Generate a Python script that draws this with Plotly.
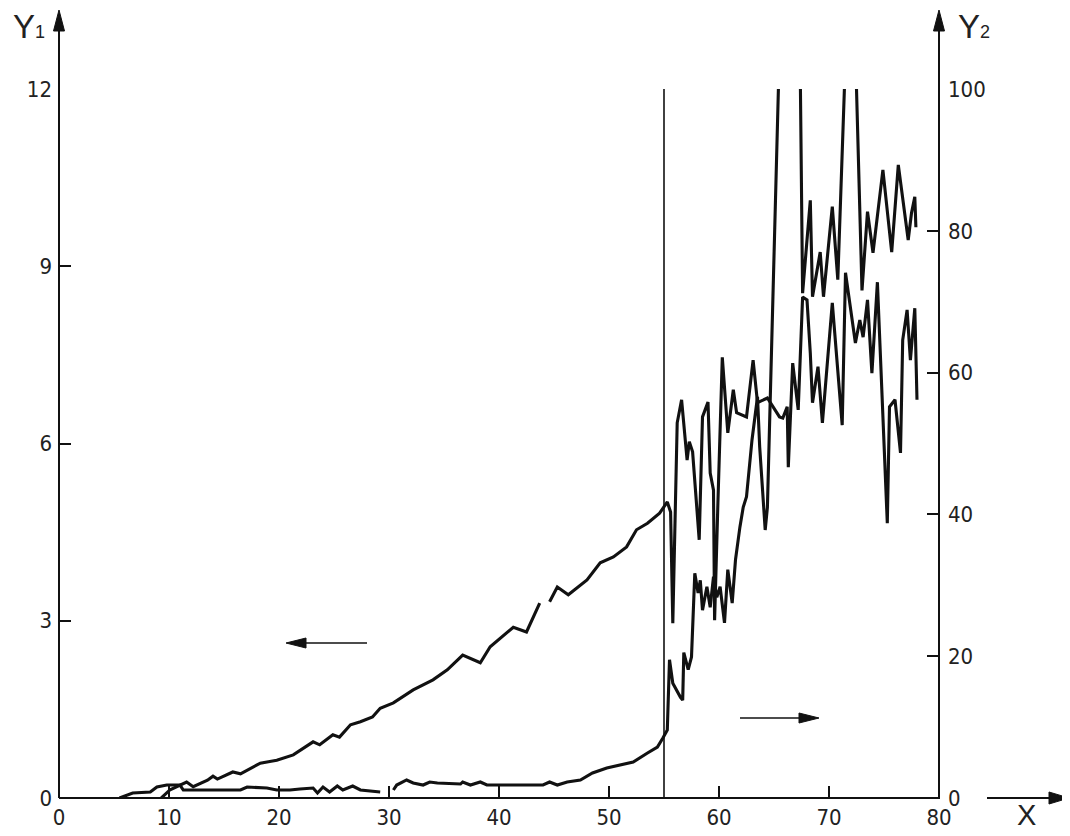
import plotly.graph_objects as go

# ---------------- data ----------------
# Y1 (left axis) curve
y1_x = [9.3, 10.1, 11.6, 12.2, 13.5, 14.0, 14.4, 15.8, 16.5, 18.3, 19.8, 21.3, 23.1, 23.7, 24.9,
        25.5, 26.5, 27.4, 28.5, 29.2, 30.4, 32.2, 34.0, 35.3, 36.7, 38.3, 39.2, 41.3, 42.5, 43.7,
        None,
        44.6, 45.3, 46.3, 48.0, 49.2, 50.4, 51.6, 52.5, 53.5, 54.6, 55.3, 55.6, 55.8, 56.2, 56.6,
        56.9, 57.1, 57.3, 57.6, 58.2, 58.5, 59.0, 59.2, 59.5, 59.6, 59.9, 60.3, 60.8, 61.3, 61.6,
        62.5, 63.1, 63.5, 64.4, 65.5, 65.8, 66.2, 66.3, 66.7, 67.2, 67.6, 68.0, 68.3, 68.5, 69.0,
        69.4, 70.3, 71.2, 71.5, 72.4, 72.8, 73.1, 73.5, 73.9, 74.4, 75.3, 75.5, 76.0, 76.5, 76.7,
        77.1, 77.4, 77.8, 78.0]
y1_v = [0.0, 0.14, 0.27, 0.19, 0.30, 0.37, 0.32, 0.44, 0.41, 0.59, 0.64, 0.73, 0.95, 0.90, 1.07,
        1.03, 1.24, 1.29, 1.37, 1.52, 1.61, 1.83, 2.00, 2.17, 2.42, 2.29, 2.56, 2.89, 2.81, 3.30,
        None,
        3.32, 3.57, 3.44, 3.69, 3.98, 4.08, 4.25, 4.54, 4.65, 4.82, 5.01, 4.84, 2.96, 6.35, 6.74,
        6.09, 5.72, 6.03, 5.86, 4.37, 6.45, 6.70, 5.50, 5.21, 3.01, 4.99, 7.46, 6.18, 6.91, 6.52,
        6.45, 7.41, 6.69, 6.77, 6.45, 6.43, 6.62, 5.60, 7.36, 6.57, 8.48, 8.43, 7.53, 6.69, 7.30,
        6.35, 8.38, 6.31, 8.89, 7.70, 8.09, 7.80, 8.43, 7.19, 8.73, 4.65, 6.62, 6.74, 5.84, 7.75,
        8.26, 7.41, 8.29, 6.74]

# Y2 (right axis) curve
y2_x = [5.5, 6.7, 8.3, 8.9, 9.8, 11.0, 11.3, 12.8, 16.5, 17.1, 18.9, 19.8, 21.0, 21.9, 23.1,
        23.5, 24.0, 24.6, 25.3, 25.8, 26.7, 27.4, 29.2,
        None,
        30.4, 30.7, 31.6, 32.2, 33.1, 33.7, 34.4, 36.5, 36.7, 37.4, 38.3, 38.9, 44.0, 44.6, 45.3,
        46.2, 47.4, 48.5, 49.8, 51.0, 52.2, 53.5, 54.4, 54.9, 55.3, 55.5, 55.8, 56.5, 56.7, 56.8,
        57.2, 57.5, 57.8, 58.1, 58.3, 58.5, 58.9, 59.2, 59.5, 59.8, 60.1, 60.5, 60.8, 61.2, 61.5,
        61.9, 62.2, 62.5, 63.0, 63.5, 63.7, 64.2, 64.4, 65.4, 65.5, 67.3, 67.4, 67.6, 68.3, 68.5,
        69.2, 69.5, 70.3, 70.8, 71.4, 71.5, 72.4, 72.5, 73.0, 73.5, 74.0, 74.9, 75.7, 76.3, 77.2,
        77.5, 77.8, 77.9]
y2_v = [0.0, 0.7, 0.85, 1.55, 1.83, 1.83, 1.13, 1.13, 1.13, 1.55, 1.41, 1.13, 1.13, 1.27, 1.41,
        0.71, 1.55, 0.85, 1.69, 1.13, 1.69, 1.13, 0.85,
        None,
        1.13, 1.83, 2.54, 2.12, 1.83, 2.26, 2.12, 1.97, 2.26, 1.83, 2.26, 1.83, 1.83, 2.26, 1.83,
        2.26, 2.54, 3.53, 4.23, 4.65, 5.08, 6.35, 7.19, 8.46, 9.59, 19.5, 16.2, 14.2, 13.8, 20.5,
        18.1, 19.9, 31.7, 28.9, 30.7, 26.5, 29.8, 26.9, 31.2, 28.3, 29.8, 24.7, 32.2, 27.5, 33.6,
        38.2, 41.0, 42.5, 50.5, 56.6, 49.5, 37.8, 41.0, 100.0, 115.0, 115.0, 100.0, 71.2, 84.3, 70.7,
        77.0, 70.7, 83.4, 73.1, 100.0, 115.0, 115.0, 100.0, 71.6, 82.7, 76.9, 88.6, 77.0, 89.3, 78.7,
        82.5, 84.8, 80.5]

x_ticks = [0, 10, 20, 30, 40, 50, 60, 70, 80]
y1_ticks = [0, 3, 6, 9, 12]
y2_ticks = [0, 20, 40, 60, 80, 100]
ref_x = 55

# ---------------- layout geometry ----------------
# page has an 8px body margin; figure is sized so it ends at the window edge
OFF = 8
W, H = 1070 - OFF, 836 - OFF
L, R, T, B = 59, 939, 89, 798          # plot area in page pixels
PW, PH = R - L, B - T


def px(xp):
    return (xp - L) / PW


def py(yp):
    return (B - yp) / PH


INK = "#111111"
TXT = "#222222"
NUM_FONT = "Liberation Sans Narrow, DejaVu Sans Condensed, Arial Narrow, sans-serif"
LBL_FONT = "Liberation Sans, Arial, sans-serif"

fig = go.Figure()
fig.add_trace(go.Scatter(x=y1_x, y=y1_v, mode="lines", line=dict(color=INK, width=3.1),
                         connectgaps=False, showlegend=False, yaxis="y"))
fig.add_trace(go.Scatter(x=y2_x, y=y2_v, mode="lines", line=dict(color=INK, width=3.1),
                         connectgaps=False, showlegend=False, yaxis="y2"))

shapes = []
# reference vertical line
shapes.append(dict(type="line", xref="x", yref="y", x0=ref_x, x1=ref_x, y0=0, y1=12,
                   line=dict(color=INK, width=1.6)))
# axes lines
shapes.append(dict(type="line", xref="paper", yref="paper", x0=0, x1=0, y0=0, y1=py(28),
                   line=dict(color=INK, width=2)))
shapes.append(dict(type="line", xref="paper", yref="paper", x0=1, x1=1, y0=0, y1=py(28),
                   line=dict(color=INK, width=2)))
shapes.append(dict(type="line", xref="paper", yref="paper", x0=0, x1=px(940), y0=0, y1=0,
                   line=dict(color=INK, width=2)))
shapes.append(dict(type="line", xref="paper", yref="paper", x0=px(987), x1=px(1052), y0=0, y1=0,
                   line=dict(color=INK, width=2)))


def tri(points):
    d = "M " + " L ".join(f"{px(a)},{py(b)}" for a, b in points) + " Z"
    return dict(type="path", xref="paper", yref="paper", path=d,
                fillcolor=INK, line=dict(color=INK, width=1))


# arrowheads on axes
shapes.append(tri([(L, 10), (L - 5.5, 31), (L + 5.5, 31)]))
shapes.append(tri([(R, 10), (R - 5.5, 31), (R + 5.5, 31)]))
shapes.append(tri([(1069, B), (1049, B - 6), (1049, B + 6)]))

# inner direction arrows
shapes.append(dict(type="line", xref="paper", yref="paper", x0=px(300), x1=px(367),
                   y0=py(643), y1=py(643), line=dict(color=INK, width=1.5)))
shapes.append(tri([(286, 643), (306, 638), (306, 648)]))
shapes.append(dict(type="line", xref="paper", yref="paper", x0=px(740), x1=px(805),
                   y0=py(718), y1=py(718), line=dict(color=INK, width=1.5)))
shapes.append(tri([(819, 718), (799, 713), (799, 723)]))

sub = "<span style='font-size:18px'>{}</span>"
annotations = [
    dict(xref="paper", yref="paper", x=px(11), y=py(27), xanchor="left", yanchor="middle",
         text="Y" + sub.format("1"), showarrow=False,
         font=dict(family=LBL_FONT, size=33, color=TXT)),
    dict(xref="paper", yref="paper", x=px(956), y=py(27), xanchor="left", yanchor="middle",
         text="Y" + sub.format("2"), showarrow=False,
         font=dict(family=LBL_FONT, size=33, color=TXT)),
    dict(xref="paper", yref="paper", x=px(1026), y=py(815), xanchor="center", yanchor="middle",
         text="X", showarrow=False, font=dict(family=LBL_FONT, size=29, color=TXT)),
]

tick_common = dict(ticks="inside", ticklen=12, tickwidth=1.5, tickcolor=INK,
                   showline=False, showgrid=False, zeroline=False, automargin=False,
                   tickfont=dict(family=NUM_FONT, size=22, color=TXT))

fig.update_layout(
    width=W, height=H,
    margin=dict(l=L - OFF, r=(W + OFF) - R, t=T - OFF, b=(H + OFF) - B, autoexpand=False),
    paper_bgcolor="white", plot_bgcolor="white",
    xaxis=dict(range=[0, 80], tickvals=x_ticks, ticklabelstandoff=4, **tick_common),
    yaxis=dict(range=[0, 12], tickvals=y1_ticks, ticklabelstandoff=6, **tick_common),
    yaxis2=dict(range=[0, 100], tickvals=y2_ticks, overlaying="y", side="right",
                ticklabelstandoff=8, **tick_common),
    shapes=shapes,
    annotations=annotations,
    showlegend=False,
)

fig.write_html("out.html")
